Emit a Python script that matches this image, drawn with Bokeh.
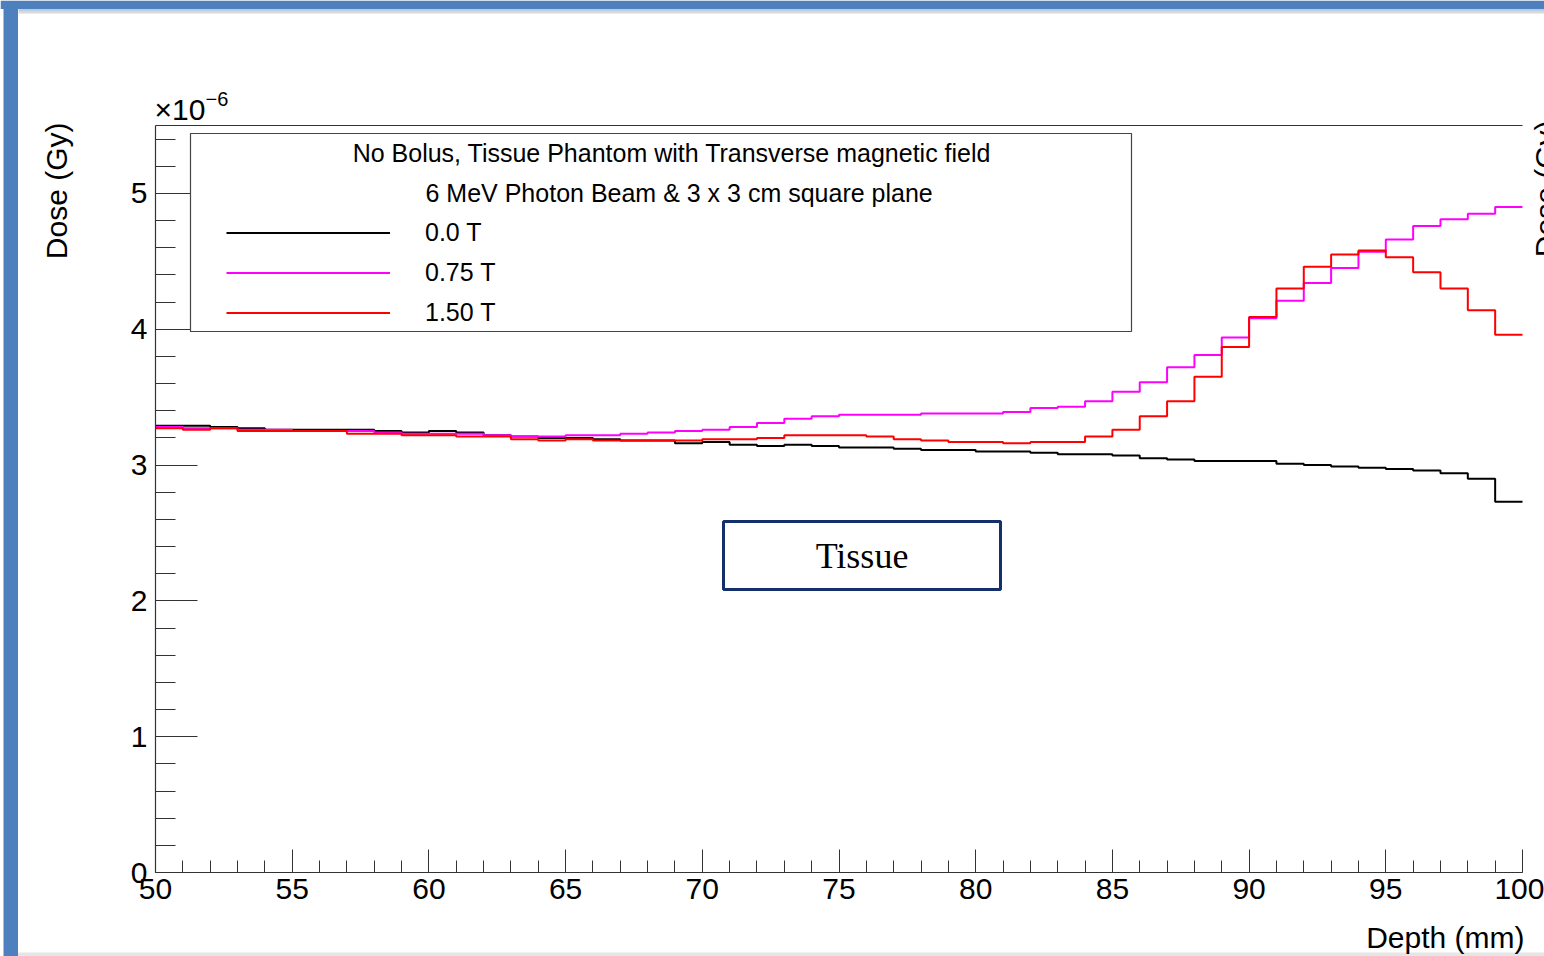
import numpy as np
from bokeh.plotting import figure
from bokeh.models import (Range1d, SingleIntervalTicker, FixedTicker, Label, BoxAnnotation,
                          Legend, LegendItem, LinearAxis)
from bokeh.embed import file_html
from bokeh.resources import INLINE

# ---------------- data (dose in units of 1e-6 Gy, 1 mm bins 50..100 mm) ----------------
bin_edges_mm = list(range(50, 101))
dose_0T = [3.29, 3.29, 3.28, 3.27, 3.26, 3.26, 3.26, 3.26, 3.25, 3.24,
           3.25, 3.24, 3.22, 3.21, 3.20, 3.20, 3.19, 3.18, 3.18, 3.16,
           3.17, 3.15, 3.14, 3.15, 3.14, 3.13, 3.13, 3.12, 3.11, 3.11,
           3.10, 3.10, 3.09, 3.08, 3.08, 3.07, 3.05, 3.04, 3.03, 3.03,
           3.03, 3.01, 3.00, 2.99, 2.98, 2.97, 2.96, 2.94, 2.90, 2.73]
dose_075T = [3.28, 3.27, 3.27, 3.26, 3.26, 3.25, 3.25, 3.25, 3.24, 3.23,
             3.23, 3.23, 3.22, 3.21, 3.21, 3.22, 3.22, 3.23, 3.24, 3.25,
             3.26, 3.28, 3.31, 3.34, 3.36, 3.37, 3.37, 3.37, 3.38, 3.38,
             3.38, 3.39, 3.42, 3.43, 3.47, 3.54, 3.61, 3.72, 3.81, 3.94,
             4.08, 4.21, 4.34, 4.45, 4.57, 4.66, 4.76, 4.81, 4.85, 4.90]
dose_150T = [3.27, 3.26, 3.27, 3.25, 3.25, 3.25, 3.25, 3.23, 3.23, 3.22,
             3.22, 3.21, 3.21, 3.19, 3.18, 3.19, 3.18, 3.18, 3.18, 3.18,
             3.19, 3.19, 3.20, 3.22, 3.22, 3.22, 3.21, 3.19, 3.18, 3.17,
             3.17, 3.16, 3.17, 3.17, 3.21, 3.26, 3.36, 3.47, 3.65, 3.87,
             4.09, 4.30, 4.46, 4.55, 4.58, 4.53, 4.42, 4.30, 4.14, 3.96]
series_labels = ["0.0 T", "0.75 T", "1.50 T"]
series_colors = ["#000000", "#ff00ff", "#ff0000"]
legend_header = ["No Bolus, Tissue Phantom with Transverse magnetic field",
                 "6 MeV Photon Beam & 3 x 3 cm square plane"]
x_title = "Depth (mm)"
y_title = "Dose (Gy)"
region_label = "Tissue"

# ---------------- layout helpers ----------------
W, H = 1544, 956
FL, FR, FT, FB = 155, 1522, 125, 872   # histogram frame edges in pixels
XMIN, XMAX, YMIN, YMAX = 50, 100, 0, 5.5

def X(px):
    return XMIN + (px - FL) / (FR - FL) * (XMAX - XMIN)

def Y(py):
    return YMIN + (FB - py) / (FB - FT) * (YMAX - YMIN)

SANS = "Liberation Sans"
AXC = "#333333"

p = figure(width=W, height=H, output_backend="svg", toolbar_location=None,
           x_range=Range1d(X(0), X(W)), y_range=Range1d(Y(H), Y(0)),
           min_border=0, min_border_left=0, min_border_right=0,
           min_border_top=0, min_border_bottom=0)
p.background_fill_color = "white"
p.border_fill_color = "white"
p.outline_line_color = None
p.grid.visible = False

# axes drawn at the histogram frame edges
p.xaxis.fixed_location = YMIN
p.xaxis.bounds = (XMIN, XMAX)
p.yaxis.fixed_location = XMIN
p.yaxis.bounds = (YMIN, YMAX)
p.xaxis.ticker = SingleIntervalTicker(interval=5, num_minor_ticks=5)
p.yaxis.ticker = SingleIntervalTicker(interval=1, num_minor_ticks=5)
for ax in (p.xaxis[0], p.yaxis[0]):
    ax.axis_line_color = AXC
    ax.axis_line_width = 1.2
    ax.major_tick_line_color = AXC
    ax.minor_tick_line_color = AXC
    ax.major_tick_out = 0
    ax.minor_tick_out = 0
    ax.major_label_text_font = SANS
    ax.major_label_text_font_size = "30px"
    ax.major_label_text_color = "black"
p.xaxis.major_tick_in = 23
p.xaxis.minor_tick_in = 12
p.xaxis.major_label_standoff = 6
p.yaxis.major_tick_in = 42
p.yaxis.minor_tick_in = 20
p.yaxis.major_label_standoff = 8

# top frame line
top_axis = LinearAxis(fixed_location=YMAX, bounds=(XMIN, XMAX), axis_line_color=AXC,
                      axis_line_width=1.2, ticker=FixedTicker(ticks=[]),
                      major_tick_line_color=None, minor_tick_line_color=None)
p.add_layout(top_axis, "above")

# histograms
renderers = []
for vals, col in zip([dose_0T, dose_075T, dose_150T], series_colors):
    yv = list(vals) + [vals[-1]]
    r = p.step(x=bin_edges_mm, y=yv, mode="after", line_color=col, line_width=2)
    renderers.append(r)

# legend box
p.add_layout(BoxAnnotation(left=X(190), right=X(1131), top=Y(133), bottom=Y(331),
                           fill_color="white", fill_alpha=1.0,
                           line_color="#444444", line_alpha=1.0, line_width=1.2))
p.add_layout(Label(x=X(671.5), y=Y(152), text=legend_header[0], text_align="center",
                   text_baseline="middle", text_font=SANS, text_font_size="25px",
                   text_color="black"))
p.add_layout(Label(x=X(425), y=Y(192), text=legend_header[1], text_align="left",
                   text_baseline="middle", text_font=SANS, text_font_size="25px",
                   text_color="black"))

legend = Legend(items=[LegendItem(label=l, renderers=[r]) for l, r in zip(series_labels, renderers)],
                location=(226, H - 332), orientation="vertical",
                glyph_width=164, glyph_height=39, label_height=39, spacing=1,
                label_standoff=35, padding=0, margin=0,
                border_line_color=None, background_fill_alpha=0,
                label_text_font=SANS, label_text_font_size="25px",
                label_text_color="black")
p.add_layout(legend, "center")

# Tissue box
p.add_layout(BoxAnnotation(left=X(723), right=X(1000), top=Y(521), bottom=Y(589),
                           fill_color="white", fill_alpha=1.0,
                           line_color="#14306b", line_alpha=1.0, line_width=3))
p.add_layout(Label(x=X(861.5), y=Y(555), text=region_label, text_align="center",
                   text_baseline="middle", text_font="Liberation Serif",
                   text_font_size="36px", text_color="black"))

# window chrome (blue bars and shadows)
BLUE = "#4e80bd"
p.add_layout(BoxAnnotation(left=X(0), right=X(W), top=Y(0), bottom=Y(8.5),
                           fill_color=BLUE, fill_alpha=1, line_color=None))
p.add_layout(BoxAnnotation(left=X(18), right=X(W), top=Y(8.5), bottom=Y(10.5),
                           fill_color="#b9cde6", fill_alpha=1, line_color=None))
p.add_layout(BoxAnnotation(left=X(18), right=X(W), top=Y(10.5), bottom=Y(13),
                           fill_color="#d9d9d9", fill_alpha=1, line_color=None))
p.add_layout(BoxAnnotation(left=X(3), right=X(17.5), top=Y(8.5), bottom=Y(H),
                           fill_color=BLUE, fill_alpha=1, line_color=None))
p.add_layout(BoxAnnotation(left=X(17.5), right=X(W), top=Y(952), bottom=Y(956),
                           fill_color="#e6e6e6", fill_alpha=1, line_color=None))

# axis titles and exponent
p.add_layout(Label(x=X(1524), y=Y(937), text=x_title, text_align="right",
                   text_baseline="middle", text_font=SANS, text_font_size="30px",
                   text_color="black"))
p.add_layout(Label(x=X(56), y=Y(122), text=y_title, text_align="right",
                   text_baseline="middle", angle=np.pi / 2, text_font=SANS,
                   text_font_size="30px", text_color="black"))
p.add_layout(Label(x=X(1545), y=Y(120), text=y_title, text_align="right",
                   text_baseline="middle", angle=np.pi / 2, text_font=SANS,
                   text_font_size="30px", text_color="black"))
p.add_layout(Label(x=X(154), y=Y(109), text="\u00d710", text_align="left",
                   text_baseline="middle", text_font=SANS, text_font_size="30px",
                   text_color="black"))
p.add_layout(Label(x=X(205), y=Y(98), text="\u22126", text_align="left",
                   text_baseline="middle", text_font=SANS, text_font_size="20px",
                   text_color="black"))

open("out.html", "w").write(file_html(p, INLINE))
